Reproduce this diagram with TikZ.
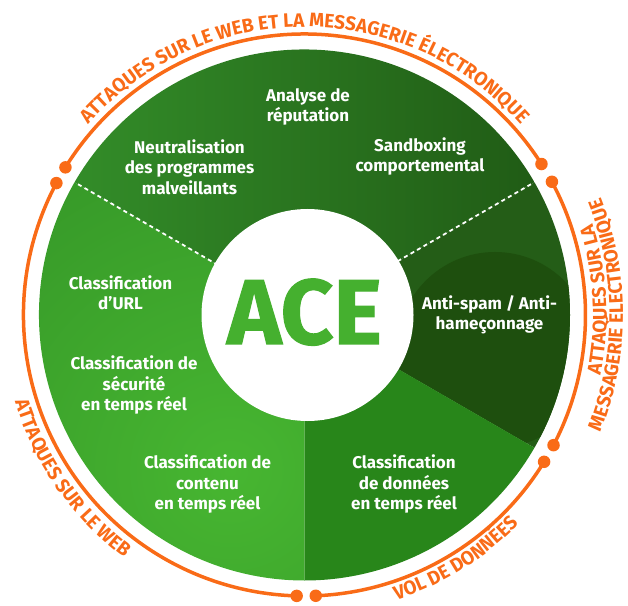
\documentclass[tikz,border=0pt]{standalone}
\usepackage{fontspec}
\setmainfont{Fira Sans}
\newfontfamily\arcfont{Fira Sans}[FakeStretch=0.97]
\newfontfamily\acefont{Fira Sans}[BoldFeatures={FakeBold=1.2}]
\usetikzlibrary{decorations.text}
\definecolor{ringorange}{HTML}{F96B17}
\definecolor{topL}{HTML}{34902A}
\definecolor{topR}{HTML}{1F5814}
\definecolor{rightG}{HTML}{245D17}
\definecolor{rightDark}{HTML}{1E4F0E}
\definecolor{brG}{HTML}{28861A}
\definecolor{blIn}{HTML}{47B631}
\definecolor{blOut}{HTML}{2E8A24}
\definecolor{aceG}{HTML}{45B02F}
\newcommand\arcstyle{\color{ringorange}\arcfont\fontsize{19.5}{19.5}\selectfont\bfseries}
\tikzset{
  lbl/.style={text=white, align=center, inner sep=0pt, font=\fontsize{17}{20.5}\selectfont\bfseries},
  ring/.style={draw=ringorange, line width=3.5pt},
  ringdot/.style={circle, fill=ringorange, inner sep=0pt, minimum size=12.5pt},
  sepline/.style={draw=white, line width=1.8pt, dash pattern=on 4pt off 3.5pt},
  arctext/.style={decorate, decoration={text along path, text align=center, text={|\arcstyle|#1}}}
}
\begin{document}
\begin{tikzpicture}[x=1pt,y=1pt]
\useasboundingbox (0,0) rectangle (628,605);
\begin{scope}[shift={(304.5,290)}]
  % bottom-left sector
  \begin{scope}
    \clip (0,0) -- (150:265.5) arc[start angle=150,end angle=270,radius=265.5] -- cycle;
    \shade[inner color=blIn, outer color=blOut] (-74.5,-155) circle (520);
  \end{scope}
  % top sector
  \begin{scope}
    \clip (0,0) -- (30:265.5) arc[start angle=30,end angle=150,radius=265.5] -- cycle;
    \shade[left color=topL, right color=topR] (-265.5,0) rectangle (265.5,265.5);
  \end{scope}
  % right sector
  \begin{scope}
    \clip (0,0) -- (-30:265.5) arc[start angle=-30,end angle=30,radius=265.5] -- cycle;
    \fill[rightG] (-10,-140) rectangle (270,140);
    \fill[rightDark] (190.5,-35) circle (98);
  \end{scope}
  % bottom-right sector
  \fill[brG] (0,0) -- (270:265.5) arc[start angle=270,end angle=330,radius=265.5] -- cycle;
  % separators
  \draw[sepline] (150:100) -- (150:264);
  \draw[sepline] (30:100) -- (30:264);
  % hub
  \node[circle, fill=white, minimum size=212pt, inner sep=0pt] (hub) at (3,0) {};
  \node[font=\acefont\fontsize{92}{92}\selectfont\bfseries, text=aceG, anchor=base, inner sep=0pt] (ace) at (0,-29) {ACE};
  % ring arcs
  \draw[ring] (32.5:281) arc[start angle=32.5, end angle=148.3, radius=281];
  \draw[ring] (152:281) arc[start angle=152, end angle=268.4, radius=281];
  \draw[ring] (272.3:281) arc[start angle=272.3, end angle=328.5, radius=281];
  \draw[ring] (332.4:281) arc[start angle=332.4, end angle=388.3, radius=281];
  \node[ringdot] (d1) at (32.5:281) {};
  \node[ringdot] (d2) at (148.3:281) {};
  \node[ringdot] (d3) at (152:281) {};
  \node[ringdot] (d4) at (268.4:281) {};
  \node[ringdot] (d5) at (272.3:281) {};
  \node[ringdot] (d6) at (328.5:281) {};
  \node[ringdot] (d7) at (332.4:281) {};
  \node[ringdot] (d8) at (28.3:281) {};
  % arc texts
  \path[arctext={ATTAQUES SUR LE WEB ET LA MESSAGERIE ÉLECTRONIQUE}] (175:288) arc[start angle=175, end angle=5, radius=288];
  \path[arctext={ATTAQUES SUR LE WEB}] (175:302) arc[start angle=175, end angle=255, radius=302];
  \path[arctext={VOL DE DONNÉES}] (261:299.5) arc[start angle=261, end angle=342.6, radius=299.5];
  \path[arctext={ATTAQUES SUR LA}] (-37:302) arc[start angle=-37, end angle=43, radius=302];
  \path[arctext={MESSAGERIE ÉLECTRONIQUE}] (-40:318.5) arc[start angle=-40, end angle=40, radius=318.5];
\end{scope}
% labels
\node[lbl] (analyse) at (308,498) {Analyse de\\réputation};
\node[lbl] (neutral) at (189.5,438) {Neutralisation\\des programmes\\malveillants};
\node[lbl] (sandbox) at (420,448.5) {Sandboxing\\comportemental};
\node[lbl] (url) at (120.5,312) {Classification\\d’URL};
\node[lbl] (secu) at (134,220) {Classification de\\sécurité\\en temps réel};
\node[lbl] (contenu) at (207.5,121) {Classification de\\contenu\\en temps réel};
\node[lbl] (donnees) at (404,121) {Classification\\de données\\en temps réel};
\node[lbl] (antispam) at (489.5,290) {Anti-spam / Anti-\\hameçonnage};
\end{tikzpicture}
\end{document}
